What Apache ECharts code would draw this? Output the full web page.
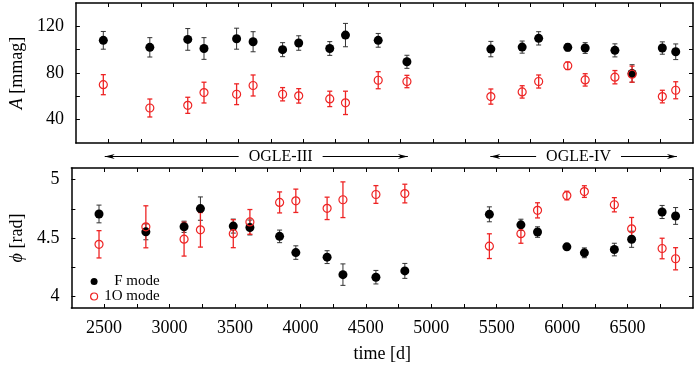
<!DOCTYPE html>
<html><head><meta charset="utf-8">
<script src="https://cdn.jsdelivr.net/npm/echarts@6/dist/echarts.min.js"></script>
<style>html,body{margin:0;padding:0;background:#fff}#c{width:700px;height:367px}</style>
</head><body><div id="c"></div>
<script>
// ---- data ----
const days = [2461, 2819, 3111, 3236, 3487, 3614, 3841, 3965, 4204, 4325, 4577, 4798, 5444, 5685, 5812, 6036, 6170, 6399, 6531, 6764, 6867];
const ampF    = [108, 102, 108.8, 101, 109.4, 106.8, 100, 105.7, 101, 112.5, 108, 89.6, 100.5, 102.2, 109.7, 102, 101.4, 99.4, 79.6, 101.4, 98.2];
const ampFErr = [7.6, 8.3, 9.3, 9.3, 9, 8.6, 6, 6.2, 5.9, 10, 5.9, 5.6, 6.6, 5.2, 5.7, 3.2, 4.6, 5.6, 7.5, 5.3, 6.7];
const ampO    = [70, 50, 52.3, 63.2, 61.8, 69.3, 61.8, 60.4, 57.8, 54.4, 73.8, 72.7, 59.8, 63.8, 72.7, 86.2, 74.1, 76.4, 79, 59.8, 65.2];
const ampOErr = [8.6, 7.7, 6.9, 8.9, 8.9, 9, 5.7, 6.2, 6.6, 10, 7.3, 5.3, 6.5, 5.3, 5.6, 3.2, 5.3, 5.7, 6.9, 5.4, 7.3];
const phF     = [4.706, 4.553, 4.596, 4.752, 4.602, 4.59, 4.514, 4.375, 4.336, 4.186, 4.164, 4.218, 4.703, 4.613, 4.551, 4.424, 4.373, 4.401, 4.489, 4.723, 4.689];
const phFErr  = [0.076, 0.068, 0.048, 0.10, 0.06, 0.064, 0.054, 0.058, 0.055, 0.092, 0.058, 0.064, 0.064, 0.048, 0.045, 0.025, 0.042, 0.054, 0.069, 0.056, 0.072];
const phO     = [4.446, 4.596, 4.49, 4.57, 4.537, 4.638, 4.805, 4.819, 4.754, 4.828, 4.873, 4.881, 4.43, 4.537, 4.737, 4.864, 4.898, 4.785, 4.579, 4.41, 4.322];
const phOErr  = [0.117, 0.18, 0.145, 0.148, 0.12, 0.106, 0.09, 0.10, 0.096, 0.153, 0.076, 0.08, 0.106, 0.082, 0.065, 0.037, 0.05, 0.061, 0.097, 0.088, 0.095];

const xTickLabels = [2500, 3000, 3500, 4000, 4500, 5000, 5500, 6000, 6500];
const xTicks = [2500, 2750, 3000, 3250, 3500, 3750, 4000, 4250, 4500, 4750, 5000, 5250, 5500, 5750, 6000, 6250, 6500, 6750];
const ampTickLabels = [40, 80, 120];
const ampTicks = [40, 60, 80, 100, 120];
const phTickLabels = [4, 4.5, 5];
const phTicks = [4, 4.25, 4.5, 4.75, 5];

const surveyNames = ['OGLE-III', 'OGLE-IV'];
const surveyFrom  = [2472, 5440];
const surveyTo    = [4805, 6876];
const surveyTextAt = [3826, 6119];

const seriesNames = ['F mode', '1O mode'];

// ---- styling ----
const FONT = 'Liberation Serif';
const RED = '#ee2424';
const X_MIN = 2250, X_MAX = 7000;

function xAx(grid, pos, withLabels, name) {
  return {
    type: 'value', gridIndex: grid, position: pos, min: X_MIN, max: X_MAX,
    axisLine: {show: true, onZero: false, lineStyle: {color: '#000', width: 1.5}},
    axisTick: {show: true, inside: true, length: 4, customValues: xTicks, lineStyle: {color: '#000', width: 1}},
    axisLabel: {show: withLabels, customValues: xTickLabels, margin: 11, color: '#000', fontFamily: FONT, fontSize: 18,
      formatter: v => String(v)},
    splitLine: {show: false},
    name: name || '', nameLocation: 'middle', nameGap: 37,
    nameTextStyle: {color: '#000', fontFamily: FONT, fontSize: 18}
  };
}
function yAx(grid, pos, min, max, ticks, labels, withLabels, name) {
  return {
    type: 'value', gridIndex: grid, position: pos, min: min, max: max,
    axisLine: {show: true, onZero: false, lineStyle: {color: '#000', width: 1.5}},
    axisTick: {show: true, inside: true, length: 4, customValues: ticks, lineStyle: {color: '#000', width: 1}},
    axisLabel: {show: withLabels, customValues: labels, margin: 12, color: '#000', fontFamily: FONT, fontSize: 18,
      formatter: v => String(v)},
    splitLine: {show: false},
    name: name || '', nameLocation: 'middle', nameGap: 44, nameRotate: 90,
    nameTextStyle: {color: '#000', fontFamily: FONT, fontSize: 18,
      rich: {i: {fontStyle: 'italic', fontFamily: FONT, fontSize: 18, color: '#000'}}}
  };
}

function errRender(color, width) {
  return function (params, api) {
    const x = api.value(0), lo = api.value(1), hi = api.value(2);
    const p1 = api.coord([x, hi]), p2 = api.coord([x, lo]);
    const c = 2.5;
    const st = {stroke: color, lineWidth: width};
    return {type: 'group', children: [
      {type: 'line', shape: {x1: p1[0], y1: p1[1], x2: p2[0], y2: p2[1]}, style: st},
      {type: 'line', shape: {x1: p1[0] - c, y1: p1[1], x2: p1[0] + c, y2: p1[1]}, style: st},
      {type: 'line', shape: {x1: p2[0] - c, y1: p2[1], x2: p2[0] + c, y2: p2[1]}, style: st}
    ]};
  };
}
function errSeries(xi, yi, vals, errs, color, width) {
  return {
    type: 'custom', xAxisIndex: xi, yAxisIndex: yi, silent: true,
    renderItem: errRender(color, width),
    encode: {x: 0, y: [1, 2]},
    data: days.map((d, i) => [d, vals[i] - errs[i], vals[i] + errs[i]])
  };
}
function ptSeries(xi, yi, name, vals, filled) {
  return {
    type: 'scatter', name: name, xAxisIndex: xi, yAxisIndex: yi, silent: true,
    symbol: 'circle', symbolSize: filled ? 9 : 8,
    itemStyle: filled ? {color: '#000', borderWidth: 0, opacity: 1}
                      : {color: 'rgba(255,255,255,0)', borderColor: RED, borderWidth: 1.2, opacity: 1},
    data: days.map((d, i) => [d, vals[i]])
  };
}

const chart = echarts.init(document.getElementById('c'), null, {renderer: 'canvas'});
chart.setOption({
  animation: false,
  backgroundColor: '#fff',
  grid: [
    {left: 70, right: 7, top: 3, height: 140},
    {left: 70, right: 7, top: 168, height: 140}
  ],
  xAxis: [
    xAx(0, 'bottom', false), xAx(0, 'top', false),
    xAx(1, 'bottom', true, 'time [d]'), xAx(1, 'top', false)
  ],
  yAxis: [
    yAx(0, 'left', 20, 140, ampTicks, ampTickLabels, true, '{i|A} [mmag]'),
    yAx(0, 'right', 20, 140, ampTicks, ampTickLabels, false),
    yAx(1, 'left', 3.9, 5.1, phTicks, phTickLabels, true, '{i|\u03d5} [rad]'),
    yAx(1, 'right', 3.9, 5.1, phTicks, phTickLabels, false)
  ],
  legend: {
    orient: 'vertical', left: 85, top: 269, itemGap: 0, itemWidth: 7, itemHeight: 7,
    selectedMode: false,
    data: [
      {name: seriesNames[0], icon: 'circle', itemStyle: {color: '#000', borderWidth: 0}},
      {name: seriesNames[1], icon: 'circle', itemStyle: {color: 'rgba(255,255,255,0)', borderColor: RED, borderWidth: 1.2}}
    ],
    formatter: n => '{t|' + n + '}',
    textStyle: {rich: {t: {width: 57, align: 'right', fontFamily: FONT, fontSize: 15, color: '#000', lineHeight: 14}}}
  },
  series: [
    errSeries(0, 0, ampF, ampFErr, '#333', 1),
    ptSeries(0, 0, seriesNames[0], ampF, true),
    errSeries(0, 0, ampO, ampOErr, RED, 1.3),
    ptSeries(0, 0, seriesNames[1], ampO, false),
    errSeries(2, 2, phF, phFErr, '#333', 1),
    ptSeries(2, 2, seriesNames[0], phF, true),
    errSeries(2, 2, phO, phOErr, RED, 1.3),
    ptSeries(2, 2, seriesNames[1], phO, false)
  ]
});

// survey span arrows in the strip between panels
function drawSurveys() {
  const yTop = chart.convertToPixel({xAxisIndex: 0, yAxisIndex: 0}, [X_MIN, 20])[1];
  const yBot = chart.convertToPixel({xAxisIndex: 2, yAxisIndex: 2}, [X_MIN, 5.1])[1];
  const y = (yTop + yBot) / 2 + 1;
  const els = [];
  surveyNames.forEach((nm, i) => {
    const xa = chart.convertToPixel({xAxisIndex: 0, yAxisIndex: 0}, [surveyFrom[i], 20])[0];
    const xb = chart.convertToPixel({xAxisIndex: 0, yAxisIndex: 0}, [surveyTo[i], 20])[0];
    const xt = chart.convertToPixel({xAxisIndex: 0, yAxisIndex: 0}, [surveyTextAt[i], 20])[0];
    els.push({type: 'line', shape: {x1: xa, y1: y, x2: xb, y2: y}, style: {stroke: '#000', lineWidth: 1}, z: 10});
    els.push({type: 'polygon', shape: {points: [[xa, y], [xa + 10, y - 2.5], [xa + 7, y], [xa + 10, y + 2.5]]}, style: {fill: '#000'}, z: 10});
    els.push({type: 'polygon', shape: {points: [[xb, y], [xb - 10, y - 2.5], [xb - 7, y], [xb - 10, y + 2.5]]}, style: {fill: '#000'}, z: 10});
    els.push({type: 'text', x: xt, y: y, z: 11, style: {text: nm, x: 0, y: 0, align: 'center', verticalAlign: 'middle',
      fontFamily: FONT, fontSize: 16, fill: '#000', backgroundColor: '#fff', padding: [1, 10]}});
  });
  chart.setOption({graphic: els});
}
drawSurveys();
</script>
</body></html>
